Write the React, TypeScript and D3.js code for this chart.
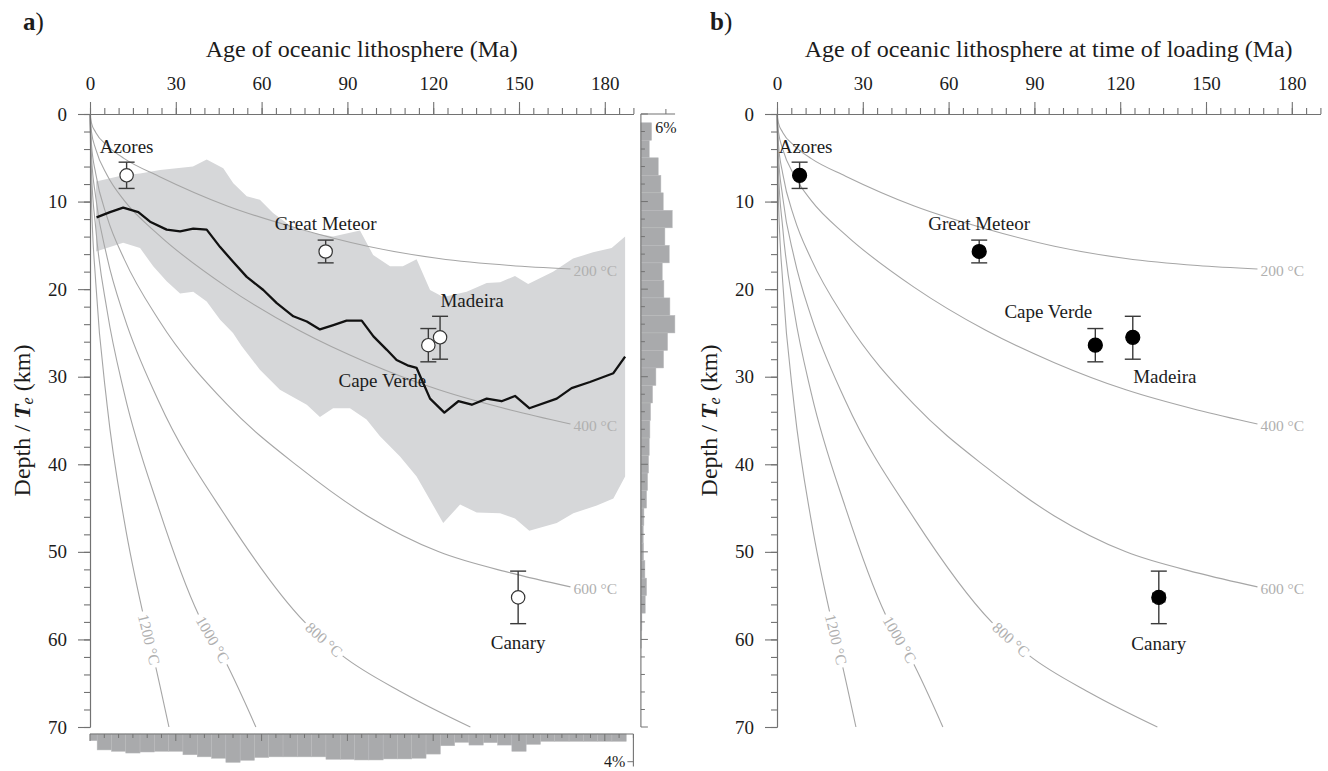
import { useEffect, useRef } from 'react';
import * as d3 from 'd3';

type Pt = [number, number];

const WIDTH = 1328;
const HEIGHT = 771;
const FONT = '"Liberation Serif", "Times New Roman", Times, serif';

const AGE_MAX = 190;
const DEPTH_MAX = 70;
const PLOT_TOP = 114;
const PLOT_BOTTOM = 727;

const AXIS_COLOR = '#727272';
const TEXT_COLOR = '#1c1c1c';
const ISO_COLOR = '#a6a6a6';
const ISO_TEXT = '#b0b0b0';
const BAND_COLOR = '#d6d7d9';
const BAR_COLOR = '#a9aaac';

// ── Seamount Te estimates ──────────────────────────────────────────────
const siteNames = ['Azores', 'Great Meteor', 'Cape Verde', 'Madeira', 'Canary'];
const siteTe = [7.0, 15.7, 26.4, 25.5, 55.2];
const siteTeLow = [5.5, 14.4, 24.5, 23.1, 52.2];
const siteTeHigh = [8.5, 17.0, 28.3, 28.0, 58.2];
const siteAge = [12.8, 82.4, 118.3, 122.4, 149.7];
const siteLoadAge = [7.9, 70.7, 111.3, 124.4, 133.5];
const siteLoadAgeErr = [0, 0, 0, 0, 2.1];

// ── Isotherms (age Ma, depth km) ───────────────────────────────────────
const isoTemps = [200, 400, 600, 800, 1000, 1200];
const iso200: Pt[] = [[0, 0], [0.5, 1.0], [2, 2.1], [6, 3.6], [12, 5.1], [24, 7.1], [48, 10.5], [73, 13.1], [97, 15.1], [122, 16.5], [147, 17.3], [168, 17.7]];
const iso400: Pt[] = [[0, 0], [0.5, 2.0], [2, 4.0], [6, 7.0], [12, 9.9], [24, 13.8], [48, 19.8], [73, 24.7], [97, 28.4], [122, 31.5], [147, 33.8], [168, 35.4]];
const iso600: Pt[] = [[0, 0], [0.5, 3.4], [2, 6.8], [6, 11.8], [12, 16.6], [24, 23.5], [48, 33.2], [73, 40.3], [97, 45.9], [122, 50.0], [147, 52.4], [168, 54.0]];
const iso800: Pt[] = [[0, 0], [0.5, 4.7], [2, 9.5], [6, 16.4], [12, 23.2], [24, 32.8], [48, 46.2], [75, 58.0], [88, 61.8], [110, 66.2], [133, 70.0]];
const iso1000: Pt[] = [[0, 0], [0.5, 6.5], [2, 13.0], [6, 22.5], [12, 31.9], [24, 45.0], [38, 57.2], [47, 62.3], [58, 70.0]];
const iso1200: Pt[] = [[0, 0], [0.5, 9.6], [2, 19.2], [6, 33.3], [12, 46.5], [18.5, 57.0], [22.4, 62.3], [27.6, 70.0]];
const isotherms = [iso200, iso400, iso600, iso800, iso1000, iso1200];

// ── Te versus plate age (panel a): spread and median ───────────────────
const bandUpper: Pt[] = [[2.1, 7.7], [11.6, 7.0], [17.5, 6.8], [24.5, 6.4], [36, 6.0], [40.8, 5.2], [46.6, 6.2], [50.1, 7.9], [54.8, 9.4], [59.4, 9.8], [64, 11.3], [71, 13.0], [78, 13.6], [85, 14.0], [94.4, 13.3], [99, 16.1], [104.9, 17.4], [109.4, 17.4], [114.2, 16.6], [118.9, 20.1], [123.5, 20.9], [131.7, 20.3], [138.7, 19.3], [143.4, 19.2], [148.6, 18.5], [153.2, 19.4], [161.9, 18.0], [168.9, 16.5], [175.9, 15.8], [182.4, 15.3], [187.1, 14.0]];
const bandLower: Pt[] = [[2.1, 15.7], [11.6, 14.7], [17.5, 15.3], [22.1, 17.4], [26.8, 19.1], [31.5, 20.5], [36.1, 20.3], [40.8, 21.4], [45.5, 23.5], [50, 25.0], [53, 26.5], [59.4, 29.2], [66.4, 31.5], [75.8, 33.2], [80.4, 34.6], [85, 33.6], [90.9, 33.6], [96.7, 34.9], [101.4, 36.8], [108.4, 39.1], [114.2, 41.4], [123.5, 46.7], [129.4, 44.6], [135.2, 45.5], [143.4, 45.6], [148.6, 46.2], [153.6, 47.6], [163.2, 46.7], [169, 45.6], [177.2, 44.7], [183, 43.9], [187.1, 41.4]];
const medianTe: Pt[] = [[2.3, 11.8], [7, 11.2], [11.6, 10.7], [16.9, 11.2], [21, 12.3], [26.8, 13.2], [31.5, 13.4], [36.1, 13.1], [40.8, 13.2], [45.5, 15.2], [50.1, 16.9], [54.8, 18.6], [60.6, 20.1], [65.3, 21.6], [71.1, 23.1], [75.8, 23.7], [80.4, 24.6], [85.1, 24.1], [89.7, 23.6], [95, 23.6], [99.1, 25.4], [103.7, 26.9], [107.2, 28.1], [111, 28.7], [114.2, 29.0], [118.9, 32.5], [123.9, 34.1], [128.8, 32.8], [133.5, 33.2], [138.7, 32.5], [143.9, 32.8], [148.6, 32.2], [153.6, 33.6], [163.2, 32.5], [168.4, 31.3], [174.8, 30.6], [183, 29.6], [187.1, 27.7]];

// ── Marginal histograms (percent) ──────────────────────────────────────
const depthBins = [2, 4, 6, 8, 10, 12, 14, 16, 18, 20, 22, 24, 26, 28, 30, 32, 34, 36, 38, 40, 42, 44, 46, 48, 50, 52, 54, 56, 58, 60];
const depthPct = [2.56, 2.0, 4.16, 4.8, 5.36, 7.52, 5.76, 6.8, 5.12, 5.52, 6.96, 8.16, 6.4, 5.44, 3.6, 2.8, 2.32, 2.16, 2.0, 1.84, 1.6, 1.36, 0.72, 0.56, 0.64, 0.96, 1.36, 1.04, 0.24, 0.1];
const ageBins = [0, 5, 10, 15, 20, 25, 30, 35, 40, 45, 50, 55, 60, 65, 70, 75, 80, 85, 90, 95, 100, 105, 110, 115, 120, 125, 130, 135, 140, 145, 150, 155, 160, 165, 170, 175, 180, 185];
const agePct = [0.96, 2.3, 2.5, 2.75, 2.6, 2.5, 2.5, 3.0, 3.3, 3.5, 4.1, 3.8, 3.4, 3.3, 3.3, 3.3, 3.3, 3.65, 3.65, 3.75, 3.75, 3.6, 3.6, 3.5, 2.9, 1.7, 1.2, 1.6, 1.25, 1.6, 2.5, 1.5, 1.06, 1.06, 1.06, 1.06, 1.06, 1.06];

const xTicks = [0, 30, 60, 90, 120, 150, 180];
const yTicks = [0, 10, 20, 30, 40, 50, 60, 70];

// ── Layout ─────────────────────────────────────────────────────────────
interface Panel {
  letter: string;
  left: number;
  right: number;
  title: string;
  ages: number[];
  ageErr: number[] | null;
  filled: boolean;
  model: boolean;
  labelDx: number[];
  labelDy: number[];
}

const PANELS: Panel[] = [
  {
    letter: 'a', left: 90, right: 633.4,
    title: 'Age of oceanic lithosphere (Ma)',
    ages: siteAge, ageErr: null, filled: false, model: true,
    labelDx: [0, 0, -46, 32, 0], labelDy: [-29, -28, 35, -37, 45],
  },
  {
    letter: 'b', left: 777, right: 1320.4,
    title: 'Age of oceanic lithosphere at time of loading (Ma)',
    ages: siteLoadAge, ageErr: siteLoadAgeErr, filled: true, model: false,
    labelDx: [6, 0, -47, 32, 0], labelDy: [-29, -28, -34, 39, 46],
  },
];

const ISO_LABEL_DEPTH = 60;

type Sel = d3.Selection<SVGGElement, unknown, null, undefined>;

function styleAxis(sel: Sel) {
  sel.select('.domain').attr('stroke', AXIS_COLOR).attr('stroke-width', 1.1);
  sel.selectAll('.tick line').attr('stroke', AXIS_COLOR).attr('stroke-width', 1.1);
  sel.selectAll('.tick text')
    .attr('fill', TEXT_COLOR)
    .attr('font-size', '19px')
    .attr('font-family', FONT);
}

function drawPanel(root: Sel, p: Panel) {
  const x = d3.scaleLinear().domain([0, AGE_MAX]).range([p.left, p.right]);
  const y = d3.scaleLinear().domain([0, DEPTH_MAX]).range([PLOT_TOP, PLOT_BOTTOM]);
  const g = root.append('g');

  const ptLine = d3.line<Pt>().x((d) => x(d[0])).y((d) => y(d[1]));

  // ── Spread of Te estimates ──────────────────────────────────────────
  if (p.model) {
    const ring = [...bandUpper, ...bandLower.slice().reverse()];
    g.append('path')
      .attr('d', ptLine.curve(d3.curveLinearClosed)(ring)!)
      .attr('fill', BAND_COLOR);
  }

  // ── Isotherms ───────────────────────────────────────────────────────
  const isoLine = d3.line<Pt>().x((d) => x(d[0])).y((d) => y(d[1])).curve(d3.curveMonotoneX);
  isotherms.forEach((pts) => {
    g.append('path')
      .attr('d', isoLine(pts)!)
      .attr('fill', 'none')
      .attr('stroke', ISO_COLOR)
      .attr('stroke-width', 1.1);
  });

  isotherms.forEach((pts, i) => {
    const label = `${isoTemps[i]} \u00b0C`;
    const last = pts[pts.length - 1];
    if (last[1] < DEPTH_MAX) {
      // label sits just past the end of the curve
      g.append('text')
        .attr('x', x(last[0]) + 3)
        .attr('y', y(last[1]) + 1.5)
        .attr('dominant-baseline', 'central')
        .attr('fill', ISO_TEXT)
        .attr('font-size', '15.5px')
        .attr('font-family', FONT)
        .text(label);
      return;
    }
    // label inline, rotated along the curve
    const k = pts.findIndex((d) => d[1] >= ISO_LABEL_DEPTH);
    const a = pts[k - 1];
    const b = pts[k];
    const t = (ISO_LABEL_DEPTH - a[1]) / (b[1] - a[1]);
    const age = a[0] + t * (b[0] - a[0]);
    const angle = (Math.atan2(y(b[1]) - y(a[1]), x(b[0]) - x(a[0])) * 180) / Math.PI;
    const lg = g.append('g')
      .attr('transform', `translate(${x(age)},${y(ISO_LABEL_DEPTH)}) rotate(${angle})`);
    const rect = lg.append('rect').attr('fill', '#fff');
    const txt = lg.append('text')
      .attr('text-anchor', 'middle')
      .attr('dominant-baseline', 'central')
      .attr('fill', ISO_TEXT)
      .attr('font-size', '15.5px')
      .attr('font-family', FONT)
      .text(label);
    const w = (txt.node() as SVGTextElement).getComputedTextLength();
    rect.attr('x', -w / 2 - 3).attr('y', -5).attr('width', w + 6).attr('height', 10);
  });

  // ── Median Te ──────────────────────────────────────────────────────
  if (p.model) {
    g.append('path')
      .attr('d', d3.line<Pt>().x((d) => x(d[0])).y((d) => y(d[1]))(medianTe)!)
      .attr('fill', 'none')
      .attr('stroke', '#111')
      .attr('stroke-width', 2.3)
      .attr('stroke-linejoin', 'round');
  }

  // ── Seamount estimates ─────────────────────────────────────────────
  siteNames.forEach((name, i) => {
    const cx = x(p.ages[i]);
    const cy = y(siteTe[i]);
    const eb = g.append('g').attr('stroke', '#3a3a3a').attr('stroke-width', 1.4);
    eb.append('line').attr('x1', cx).attr('x2', cx).attr('y1', y(siteTeLow[i])).attr('y2', y(siteTeHigh[i]));
    eb.append('line').attr('x1', cx - 8).attr('x2', cx + 8).attr('y1', y(siteTeLow[i])).attr('y2', y(siteTeLow[i]));
    eb.append('line').attr('x1', cx - 8).attr('x2', cx + 8).attr('y1', y(siteTeHigh[i])).attr('y2', y(siteTeHigh[i]));
    const err = p.ageErr ? p.ageErr[i] : 0;
    if (err > 0) {
      const x0 = x(p.ages[i] - err);
      const x1 = x(p.ages[i] + err);
      eb.append('line').attr('x1', x0).attr('x2', x1).attr('y1', cy).attr('y2', cy);
      eb.append('line').attr('x1', x0).attr('x2', x0).attr('y1', cy - 5).attr('y2', cy + 5);
      eb.append('line').attr('x1', x1).attr('x2', x1).attr('y1', cy - 5).attr('y2', cy + 5);
    }
    g.append('circle')
      .attr('cx', cx)
      .attr('cy', cy)
      .attr('r', p.filled ? 7 : 6.7)
      .attr('fill', p.filled ? '#000' : '#fff')
      .attr('stroke', p.filled ? '#000' : '#333')
      .attr('stroke-width', 1.2);
    g.append('text')
      .attr('x', cx + p.labelDx[i])
      .attr('y', cy + p.labelDy[i])
      .attr('text-anchor', 'middle')
      .attr('dominant-baseline', 'central')
      .attr('fill', TEXT_COLOR)
      .attr('font-size', '19px')
      .attr('font-family', FONT)
      .text(name);
  });

  // ── Axes ───────────────────────────────────────────────────────────
  g.append('g')
    .attr('transform', `translate(0,${PLOT_TOP})`)
    .call(d3.axisTop(x).tickValues(d3.range(0, AGE_MAX + 1, 5)).tickSize(6).tickSizeOuter(0).tickFormat(() => ''))
    .call(styleAxis);
  g.append('g')
    .attr('transform', `translate(0,${PLOT_TOP})`)
    .call(d3.axisTop(x).tickValues(xTicks).tickSize(12).tickSizeOuter(0).tickPadding(12))
    .call(styleAxis);

  g.append('g')
    .attr('transform', `translate(${p.left},0)`)
    .call(d3.axisLeft(y).tickValues(d3.range(0, DEPTH_MAX + 1, 2)).tickSize(6).tickSizeOuter(0).tickFormat(() => ''))
    .call(styleAxis);
  g.append('g')
    .attr('transform', `translate(${p.left},0)`)
    .call(d3.axisLeft(y).tickValues(yTicks).tickSize(12).tickSizeOuter(0).tickPadding(11))
    .call(styleAxis);

  // titles
  g.append('text')
    .attr('x', (p.left + p.right) / 2)
    .attr('y', 57)
    .attr('text-anchor', 'middle')
    .attr('fill', TEXT_COLOR)
    .attr('font-size', '24px')
    .attr('font-family', FONT)
    .text(p.title);

  const yl = g.append('text')
    .attr('transform', `translate(${p.left - 68},${(PLOT_TOP + PLOT_BOTTOM) / 2}) rotate(-90)`)
    .attr('text-anchor', 'middle')
    .attr('dominant-baseline', 'central')
    .attr('fill', TEXT_COLOR)
    .attr('font-size', '24px')
    .attr('font-family', FONT);
  yl.append('tspan').text('Depth / ');
  yl.append('tspan').attr('font-style', 'italic').attr('font-weight', 'bold').text('T');
  yl.append('tspan').attr('font-style', 'italic').attr('font-size', '16px').attr('dy', 5).text('e');
  yl.append('tspan').attr('dy', -5).text(' (km)');

  const lt = g.append('text')
    .attr('x', p.left - 67)
    .attr('y', 30)
    .attr('fill', TEXT_COLOR)
    .attr('font-size', '25px')
    .attr('font-family', FONT);
  lt.append('tspan').attr('font-weight', 'bold').text(p.letter);
  lt.append('tspan').text(')');

  // ── Marginal histograms (panel a) ──────────────────────────────────
  if (p.model) {
    const hx0 = p.right + 7.5;
    const xH = d3.scaleLinear().domain([0, 6]).range([hx0, hx0 + 25]);
    const hy0 = PLOT_BOTTOM + 7;
    const yH = d3.scaleLinear().domain([0, 4]).range([hy0, hy0 + 27.7]);

    const right = g.append('g');
    right.selectAll('rect')
      .data(depthBins)
      .join('rect')
      .attr('x', hx0)
      .attr('y', (d) => y(d - 1))
      .attr('width', (_d, i) => xH(depthPct[i]) - hx0)
      .attr('height', (d) => y(d + 1) - y(d - 1))
      .attr('fill', BAR_COLOR)
      .attr('stroke', '#b9babc')
      .attr('stroke-width', 0.5);
    right.selectAll('line.tk')
      .data(d3.range(0, DEPTH_MAX + 1, 2))
      .join('line')
      .attr('class', 'tk')
      .attr('x1', hx0)
      .attr('x2', (d) => hx0 + (d % 10 === 0 ? 7 : 4))
      .attr('y1', (d) => y(d))
      .attr('y2', (d) => y(d))
      .attr('stroke', AXIS_COLOR);
    right.append('line').attr('x1', hx0).attr('x2', hx0).attr('y1', PLOT_TOP).attr('y2', PLOT_BOTTOM).attr('stroke', AXIS_COLOR).attr('stroke-width', 1.1);
    right.append('line').attr('x1', hx0).attr('x2', xH(8.2)).attr('y1', PLOT_TOP).attr('y2', PLOT_TOP).attr('stroke', AXIS_COLOR).attr('stroke-width', 1.1);
    right.append('line').attr('x1', xH(6)).attr('x2', xH(6)).attr('y1', PLOT_TOP - 5).attr('y2', PLOT_TOP).attr('stroke', AXIS_COLOR);
    right.append('text')
      .attr('x', xH(6))
      .attr('y', PLOT_TOP + 19)
      .attr('text-anchor', 'middle')
      .attr('fill', TEXT_COLOR)
      .attr('font-size', '16px')
      .attr('font-family', FONT)
      .text('6%');

    const bottom = g.append('g');
    bottom.selectAll('rect')
      .data(ageBins)
      .join('rect')
      .attr('x', (d) => x(Math.max(0, d - 2.5)))
      .attr('y', hy0)
      .attr('width', (d) => x(d + 2.5) - x(Math.max(0, d - 2.5)))
      .attr('height', (_d, i) => yH(agePct[i]) - hy0)
      .attr('fill', BAR_COLOR)
      .attr('stroke', '#b9babc')
      .attr('stroke-width', 0.5);
    bottom.selectAll('line.tk')
      .data(d3.range(0, AGE_MAX + 1, 5))
      .join('line')
      .attr('class', 'tk')
      .attr('x1', (d) => x(d))
      .attr('x2', (d) => x(d))
      .attr('y1', hy0)
      .attr('y2', (d) => hy0 + (d % 30 === 0 ? 7 : 4))
      .attr('stroke', AXIS_COLOR);
    bottom.append('line').attr('x1', x(0)).attr('x2', x(AGE_MAX)).attr('y1', hy0).attr('y2', hy0).attr('stroke', AXIS_COLOR).attr('stroke-width', 1.1);
    bottom.append('line').attr('x1', x(AGE_MAX)).attr('x2', x(AGE_MAX)).attr('y1', hy0).attr('y2', yH(4.7)).attr('stroke', AXIS_COLOR).attr('stroke-width', 1.1);
    bottom.append('line').attr('x1', x(AGE_MAX) - 6).attr('x2', x(AGE_MAX)).attr('y1', yH(4)).attr('y2', yH(4)).attr('stroke', AXIS_COLOR);
    bottom.append('text')
      .attr('x', x(AGE_MAX) - 8)
      .attr('y', yH(4))
      .attr('text-anchor', 'end')
      .attr('dominant-baseline', 'central')
      .attr('fill', TEXT_COLOR)
      .attr('font-size', '16px')
      .attr('font-family', FONT)
      .text('4%');
  }
}

export default function App() {
  const svgRef = useRef<SVGSVGElement>(null);

  useEffect(() => {
    if (!svgRef.current) return;
    const svg = d3.select(svgRef.current);
    svg.selectAll('*').remove();
    const root = svg.append('g') as unknown as Sel;
    PANELS.forEach((p) => drawPanel(root, p));
  }, []);

  return (
    <svg
      ref={svgRef}
      width={WIDTH}
      height={HEIGHT}
      style={{ position: 'absolute', left: 0, top: 0, background: '#fff', display: 'block' }}
    />
  );
}
